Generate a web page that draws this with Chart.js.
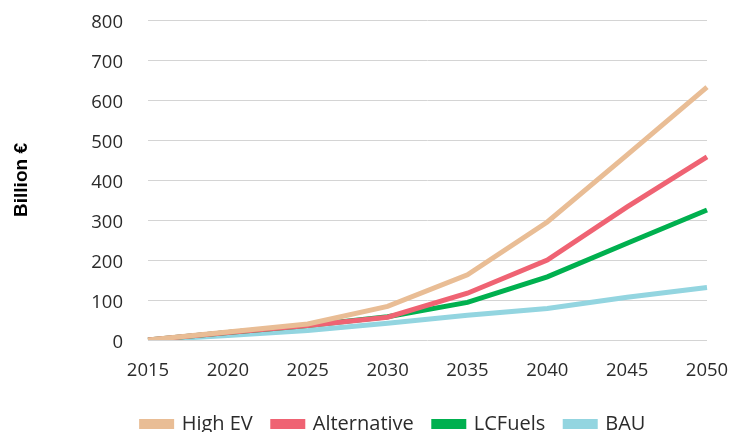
<!DOCTYPE html>
<html>
<head>
<meta charset="utf-8">
<script src="https://cdn.jsdelivr.net/npm/chart.js@4.4.0/dist/chart.umd.min.js"></script>
<style>
  html, body { margin: 0; padding: 0; background: #ffffff; }
  #wrap { width: 732px; height: 432px; }
</style>
</head>
<body>
<div id="wrap"><canvas id="c" width="732" height="432"></canvas></div>
<script>
// Market value by scenario, billion euro
const years = ['2015', '2020', '2025', '2030', '2035', '2040', '2045', '2050'];
const highEV      = [0, 20, 40, 84, 163, 295, 463, 632];
const alternative = [0, 19, 36, 57, 117, 200, 333, 458];
const lcFuels     = [0, 19, 36, 58, 94, 158, 242, 325];
const bau         = [0, 11, 24, 42, 62, 79, 107, 131];
const yTicks      = [0, 100, 200, 300, 400, 500, 600, 700, 800];

const FONT = '"Open Sans", "Liberation Sans", sans-serif';
const TEXT = '#2b2b2b';
const SIZE = 18.5;

function series(label, data, color) {
  return {
    label, data,
    borderColor: color,
    backgroundColor: color,
    borderWidth: 5,
    pointRadius: 0,
    pointHoverRadius: 0,
    tension: 0,
    fill: false
  };
}

// Nudges the legend row into place below the axis labels
const legendShift = {
  id: 'legendShift',
  afterLayout(chart) {
    const lg = chart.legend;
    if (!lg) return;
    const dx = 40, dy = 12;
    lg.left += dx; lg.right += dx;
    lg.top += dy; lg.bottom += dy;
  }
};

new Chart(document.getElementById('c'), {
  type: 'line',
  data: {
    labels: years,
    datasets: [
      series('High EV', highEV, '#E9BD95'),
      series('Alternative', alternative, '#EF6373'),
      series('LCFuels', lcFuels, '#00B04F'),
      series('BAU', bau, '#93D5E0')
    ]
  },
  options: {
    responsive: false,
    animation: false,
    devicePixelRatio: 1,
    layout: { padding: { top: 20, right: 25, left: 0, bottom: 0 } },
    plugins: {
      tooltip: { enabled: false },
      legend: {
        position: 'bottom',
        labels: {
          boxWidth: 30,
          boxHeight: 5,
          padding: 20,
          color: TEXT,
          font: { family: FONT, size: 20 }
        }
      }
    },
    scales: {
      x: {
        offset: false,
        grid: { display: false, drawTicks: false },
        border: { display: false },
        ticks: {
          color: TEXT,
          padding: 20,
          maxRotation: 0,
          font: { family: FONT, size: SIZE }
        },
        afterFit(scale) {
          scale.height = 42;
          scale.paddingLeft = 0;
          scale.paddingRight = 0;
        }
      },
      y: {
        min: 0,
        max: 800,
        afterBuildTicks(scale) { scale.ticks = yTicks.map(v => ({ value: v })); },
        grid: { color: '#d4d4d4', lineWidth: 1, drawTicks: false },
        border: { display: false },
        ticks: {
          color: TEXT,
          padding: 25,
          labelOffset: 3,
          font: { family: FONT, size: SIZE }
        },
        title: {
          display: true,
          text: 'Billion €',
          color: '#000000',
          padding: { top: 10, bottom: 0 },
          font: { family: '"Liberation Sans", Arial, sans-serif', size: 19, weight: 'bold' }
        },
        afterFit(scale) {
          scale.width = 148;
          scale.paddingTop = 0;
          scale.paddingBottom = 0;
        }
      }
    }
  },
  plugins: [legendShift]
});
</script>
</body>
</html>
